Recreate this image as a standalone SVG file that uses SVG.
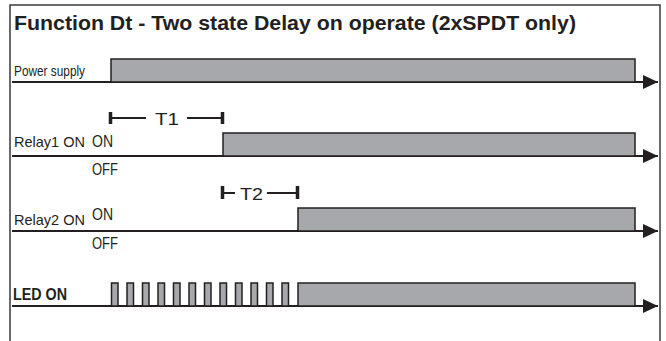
<svg xmlns="http://www.w3.org/2000/svg" width="666" height="341" viewBox="0 0 666 341">
<style>
.t{font-family:"Liberation Sans",Arial,sans-serif;fill:#231f20}
.lbl{font-size:15px}
.st{font-size:16px}
.axis{stroke:#231f20;stroke-width:2;fill:none}
.sig{fill:#a7a8ab;stroke:#231f20;stroke-width:1.5}
.tm{stroke:#231f20;stroke-width:2;fill:none}
.tb{stroke:#231f20;stroke-width:3.5;fill:none}
</style>
<defs>
<marker id="arr" markerWidth="16" markerHeight="14" refX="15" refY="7" orient="auto" markerUnits="userSpaceOnUse">
<path d="M0,0 L15,7 L0,14 Z" fill="#231f20"/>
</marker>
</defs>
<rect width="666" height="341" fill="#fff"/>
<path d="M10,341 V5 H660 V341" fill="none" stroke="#3a3a3a" stroke-width="1.5"/>
<text class="t" x="14" y="30" font-size="21" font-weight="bold" textLength="562" lengthAdjust="spacingAndGlyphs">Function Dt - Two state Delay on operate (2xSPDT only)</text>

<g id="connectors">
<line class="axis" x1="12" y1="82" x2="658" y2="82" marker-end="url(#arr)"/>
<line class="axis" x1="12" y1="156" x2="658" y2="156" marker-end="url(#arr)"/>
<line class="axis" x1="12" y1="231" x2="658" y2="231" marker-end="url(#arr)"/>
<line class="axis" x1="12" y1="306" x2="658" y2="306" marker-end="url(#arr)"/>
</g>

<g id="power">
<text class="t lbl" x="14" y="76" textLength="71" lengthAdjust="spacingAndGlyphs">Power supply</text>
<rect class="sig" x="111" y="59" width="524" height="23"/>
</g>

<g id="t1">
<line class="tb" x1="110.5" y1="112" x2="110.5" y2="124"/>
<line class="tm" x1="110" y1="118" x2="146" y2="118"/>
<text class="t" x="155" y="125" font-size="16.5" textLength="24" lengthAdjust="spacingAndGlyphs">T1</text>
<line class="tm" x1="187" y1="118" x2="223" y2="118"/>
<line class="tb" x1="222.5" y1="112" x2="222.5" y2="124"/>
</g>

<g id="relay1">
<text class="t lbl" x="14" y="147" textLength="71" lengthAdjust="spacingAndGlyphs">Relay1 ON</text>
<text class="t st" x="92" y="147" textLength="21" lengthAdjust="spacingAndGlyphs">ON</text>
<text class="t st" x="92" y="175" textLength="26" lengthAdjust="spacingAndGlyphs">OFF</text>
<rect class="sig" x="223" y="133" width="412" height="23"/>
</g>

<g id="t2">
<line class="tb" x1="222.5" y1="186" x2="222.5" y2="199"/>
<line class="tm" x1="222" y1="193" x2="235" y2="193"/>
<text class="t" x="240" y="200" font-size="16.5" textLength="23" lengthAdjust="spacingAndGlyphs">T2</text>
<line class="tm" x1="267" y1="193" x2="298" y2="193"/>
<line class="tb" x1="297.5" y1="186" x2="297.5" y2="199"/>
</g>

<g id="relay2">
<text class="t lbl" x="14" y="225" textLength="71" lengthAdjust="spacingAndGlyphs">Relay2 ON</text>
<text class="t st" x="92" y="220" textLength="21" lengthAdjust="spacingAndGlyphs">ON</text>
<text class="t st" x="92" y="249" textLength="26" lengthAdjust="spacingAndGlyphs">OFF</text>
<rect class="sig" x="298" y="208" width="337" height="23"/>
</g>

<g id="led">
<text class="t" x="13" y="300" font-size="16" font-weight="bold" textLength="54" lengthAdjust="spacingAndGlyphs">LED ON</text>
<rect class="sig" x="111.5" y="283" width="6.5" height="23"/>
<rect class="sig" x="127" y="283" width="6.5" height="23"/>
<rect class="sig" x="142.5" y="283" width="6.5" height="23"/>
<rect class="sig" x="158" y="283" width="6.5" height="23"/>
<rect class="sig" x="173.5" y="283" width="6.5" height="23"/>
<rect class="sig" x="189" y="283" width="6.5" height="23"/>
<rect class="sig" x="204.5" y="283" width="6.5" height="23"/>
<rect class="sig" x="220" y="283" width="6.5" height="23"/>
<rect class="sig" x="235.5" y="283" width="6.5" height="23"/>
<rect class="sig" x="251" y="283" width="6.5" height="23"/>
<rect class="sig" x="266.5" y="283" width="6.5" height="23"/>
<rect class="sig" x="282" y="283" width="6.5" height="23"/>
<rect class="sig" x="298" y="283" width="337" height="23"/>
</g>
</svg>
